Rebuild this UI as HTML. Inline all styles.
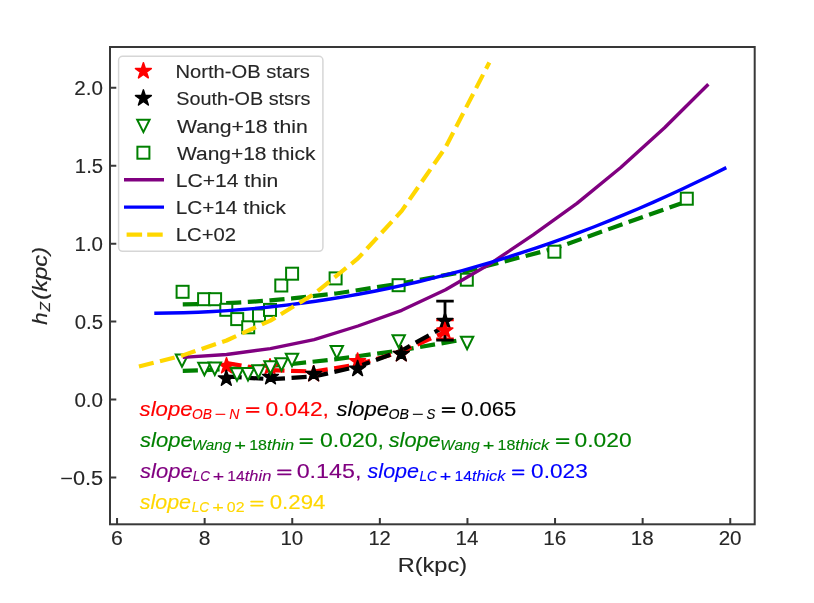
<!DOCTYPE html>
<html><head><meta charset="utf-8"><style>
html,body{margin:0;padding:0;background:#fff;width:814px;height:603px;overflow:hidden}
svg{display:block;font-family:"Liberation Sans",sans-serif;will-change:transform;filter:blur(0.35px)}
</style></head><body>
<svg width="814" height="603" viewBox="0 0 814 603">
<rect width="814" height="603" fill="#fff"/>
<defs><clipPath id="ax"><rect x="110" y="47" width="644.7" height="477.29999999999995"/></clipPath></defs>
<g clip-path="url(#ax)">
<path d="M182.75,304.39 L204.65,303.94 L215.60,303.58 L226.55,303.12 L237.50,302.57 L248.45,301.93 L259.40,301.20 L270.35,300.38 L281.30,299.46 L292.25,298.45 L336.05,293.50 L398.68,283.87 L467.45,271.00 L555.05,248.30 L686.45,201.50" fill="none" stroke="#008000" stroke-width="4.2" stroke-linejoin="round" stroke-linecap="butt" stroke-dasharray="15.15 6.55"/>
<rect x="176.60" y="285.80" width="12.00" height="12.00" fill="#fff" stroke="#008000" stroke-width="2.0"/>
<rect x="198.10" y="293.20" width="12.00" height="12.00" fill="#fff" stroke="#008000" stroke-width="2.0"/>
<rect x="209.10" y="293.20" width="12.00" height="12.00" fill="#fff" stroke="#008000" stroke-width="2.0"/>
<rect x="220.30" y="303.80" width="12.00" height="12.00" fill="#fff" stroke="#008000" stroke-width="2.0"/>
<rect x="231.20" y="313.10" width="12.00" height="12.00" fill="#fff" stroke="#008000" stroke-width="2.0"/>
<rect x="242.20" y="321.30" width="12.00" height="12.00" fill="#fff" stroke="#008000" stroke-width="2.0"/>
<rect x="253.00" y="309.50" width="12.00" height="12.00" fill="#fff" stroke="#008000" stroke-width="2.0"/>
<rect x="264.00" y="303.90" width="12.00" height="12.00" fill="#fff" stroke="#008000" stroke-width="2.0"/>
<rect x="275.30" y="279.50" width="12.00" height="12.00" fill="#fff" stroke="#008000" stroke-width="2.0"/>
<rect x="286.10" y="267.70" width="12.00" height="12.00" fill="#fff" stroke="#008000" stroke-width="2.0"/>
<rect x="329.60" y="272.40" width="12.00" height="12.00" fill="#fff" stroke="#008000" stroke-width="2.0"/>
<rect x="392.60" y="279.20" width="12.00" height="12.00" fill="#fff" stroke="#008000" stroke-width="2.0"/>
<rect x="460.80" y="273.70" width="12.00" height="12.00" fill="#fff" stroke="#008000" stroke-width="2.0"/>
<rect x="548.40" y="245.70" width="12.00" height="12.00" fill="#fff" stroke="#008000" stroke-width="2.0"/>
<rect x="680.80" y="192.70" width="12.00" height="12.00" fill="#fff" stroke="#008000" stroke-width="2.0"/>
<path d="M182.75,370.83 L204.65,370.06 L215.60,369.57 L226.55,368.99 L237.50,368.35 L248.45,367.62 L259.40,366.83 L270.35,365.95 L281.30,365.01 L292.25,363.98 L336.05,359.14 L398.68,350.62 L467.45,338.88" fill="none" stroke="#008000" stroke-width="4.2" stroke-linejoin="round" stroke-linecap="butt" stroke-dasharray="15.15 6.55"/>
<path d="M445.00,319.90 L445.00,338.80 M436.25,319.90 L453.75,319.90 M436.25,338.80 L453.75,338.80" stroke="#ff0000" stroke-width="2.8" fill="none"/>
<path d="M445.00,301.20 L445.00,340.20 M436.25,301.20 L453.75,301.20 M436.25,340.20 L453.75,340.20" stroke="#000000" stroke-width="2.8" fill="none"/>
<path d="M226.55,363.00 L270.35,370.20 L314.15,371.50 L357.95,364.50 L401.75,351.50 L445.55,331.70" fill="none" stroke="#ff0000" stroke-width="4.2" stroke-linejoin="round" stroke-linecap="butt" stroke-dasharray="15.15 6.55"/>
<path d="M226.55,376.50 L270.35,379.20 L314.15,376.50 L357.95,366.50 L401.75,350.50 L445.55,326.00" fill="none" stroke="#000000" stroke-width="4.2" stroke-linejoin="round" stroke-linecap="butt" stroke-dasharray="15.15 6.55"/>
<path d="M445.00,312.70 L446.86,318.44 L452.89,318.44 L448.02,321.98 L449.88,327.71 L445.00,324.17 L440.12,327.71 L441.98,321.98 L437.11,318.44 L443.14,318.44Z" fill="#000000" stroke="#000000" stroke-width="1.6" stroke-linejoin="round"/>
<path d="M226.50,357.70 L228.36,363.44 L234.39,363.44 L229.52,366.98 L231.38,372.71 L226.50,369.17 L221.62,372.71 L223.48,366.98 L218.61,363.44 L224.64,363.44Z" fill="#ff0000" stroke="#ff0000" stroke-width="1.6" stroke-linejoin="round"/>
<path d="M270.00,358.70 L271.86,364.44 L277.89,364.44 L273.02,367.98 L274.88,373.71 L270.00,370.17 L265.12,373.71 L266.98,367.98 L262.11,364.44 L268.14,364.44Z" fill="#ff0000" stroke="#ff0000" stroke-width="1.6" stroke-linejoin="round"/>
<path d="M313.60,365.70 L315.46,371.44 L321.49,371.44 L316.62,374.98 L318.48,380.71 L313.60,377.17 L308.72,380.71 L310.58,374.98 L305.71,371.44 L311.74,371.44Z" fill="#ff0000" stroke="#ff0000" stroke-width="1.6" stroke-linejoin="round"/>
<path d="M357.60,353.10 L359.46,358.84 L365.49,358.84 L360.62,362.38 L362.48,368.11 L357.60,364.57 L352.72,368.11 L354.58,362.38 L349.71,358.84 L355.74,358.84Z" fill="#ff0000" stroke="#ff0000" stroke-width="1.6" stroke-linejoin="round"/>
<path d="M401.30,345.70 L403.16,351.44 L409.19,351.44 L404.32,354.98 L406.18,360.71 L401.30,357.17 L396.42,360.71 L398.28,354.98 L393.41,351.44 L399.44,351.44Z" fill="#ff0000" stroke="#ff0000" stroke-width="1.6" stroke-linejoin="round"/>
<path d="M444.90,322.40 L446.76,328.14 L452.79,328.14 L447.92,331.68 L449.78,337.41 L444.90,333.87 L440.02,337.41 L441.88,331.68 L437.01,328.14 L443.04,328.14Z" fill="#ff0000" stroke="#ff0000" stroke-width="1.6" stroke-linejoin="round"/>
<path d="M226.30,370.20 L228.16,375.94 L234.19,375.94 L229.32,379.48 L231.18,385.21 L226.30,381.67 L221.42,385.21 L223.28,379.48 L218.41,375.94 L224.44,375.94Z" fill="#000000" stroke="#000000" stroke-width="1.6" stroke-linejoin="round"/>
<path d="M270.50,368.70 L272.36,374.44 L278.39,374.44 L273.52,377.98 L275.38,383.71 L270.50,380.17 L265.62,383.71 L267.48,377.98 L262.61,374.44 L268.64,374.44Z" fill="#000000" stroke="#000000" stroke-width="1.6" stroke-linejoin="round"/>
<path d="M313.70,365.70 L315.56,371.44 L321.59,371.44 L316.72,374.98 L318.58,380.71 L313.70,377.17 L308.82,380.71 L310.68,374.98 L305.81,371.44 L311.84,371.44Z" fill="#000000" stroke="#000000" stroke-width="1.6" stroke-linejoin="round"/>
<path d="M357.60,360.50 L359.46,366.24 L365.49,366.24 L360.62,369.78 L362.48,375.51 L357.60,371.97 L352.72,375.51 L354.58,369.78 L349.71,366.24 L355.74,366.24Z" fill="#000000" stroke="#000000" stroke-width="1.6" stroke-linejoin="round"/>
<path d="M401.30,345.70 L403.16,351.44 L409.19,351.44 L404.32,354.98 L406.18,360.71 L401.30,357.17 L396.42,360.71 L398.28,354.98 L393.41,351.44 L399.44,351.44Z" fill="#000000" stroke="#000000" stroke-width="1.6" stroke-linejoin="round"/>
<path d="M175.80,354.40 L188.20,354.40 L182.00,366.80Z" fill="#fff" stroke="#008000" stroke-width="2.0" stroke-linejoin="miter"/>
<path d="M198.20,362.80 L210.60,362.80 L204.40,375.20Z" fill="#fff" stroke="#008000" stroke-width="2.0" stroke-linejoin="miter"/>
<path d="M208.60,362.50 L221.00,362.50 L214.80,374.90Z" fill="#fff" stroke="#008000" stroke-width="2.0" stroke-linejoin="miter"/>
<path d="M230.80,368.30 L243.20,368.30 L237.00,380.70Z" fill="#fff" stroke="#008000" stroke-width="2.0" stroke-linejoin="miter"/>
<path d="M241.80,368.00 L254.20,368.00 L248.00,380.40Z" fill="#fff" stroke="#008000" stroke-width="2.0" stroke-linejoin="miter"/>
<path d="M252.30,365.30 L264.70,365.30 L258.50,377.70Z" fill="#fff" stroke="#008000" stroke-width="2.0" stroke-linejoin="miter"/>
<path d="M264.30,361.30 L276.70,361.30 L270.50,373.70Z" fill="#fff" stroke="#008000" stroke-width="2.0" stroke-linejoin="miter"/>
<path d="M275.30,358.30 L287.70,358.30 L281.50,370.70Z" fill="#fff" stroke="#008000" stroke-width="2.0" stroke-linejoin="miter"/>
<path d="M285.80,353.80 L298.20,353.80 L292.00,366.20Z" fill="#fff" stroke="#008000" stroke-width="2.0" stroke-linejoin="miter"/>
<path d="M330.60,346.00 L343.00,346.00 L336.80,358.40Z" fill="#fff" stroke="#008000" stroke-width="2.0" stroke-linejoin="miter"/>
<path d="M392.50,335.30 L404.90,335.30 L398.70,347.70Z" fill="#fff" stroke="#008000" stroke-width="2.0" stroke-linejoin="miter"/>
<path d="M460.90,336.80 L473.30,336.80 L467.10,349.20Z" fill="#fff" stroke="#008000" stroke-width="2.0" stroke-linejoin="miter"/>
<path d="M182.75,357.40 L226.55,354.50 L270.35,348.60 L314.15,339.70 L357.95,326.00 L401.75,310.30 L445.55,289.70 L489.35,264.30 L533.15,234.90 L576.95,203.40 L620.75,167.50 L664.55,127.70 L708.35,84.30" fill="none" stroke="#800080" stroke-width="3.4" stroke-linejoin="round" stroke-linecap="butt"/>
<path d="M154.28,313.20 L168.95,313.06 L183.61,312.73 L198.28,312.21 L212.95,311.51 L227.62,310.61 L242.28,309.52 L256.95,308.25 L271.62,306.79 L286.29,305.13 L300.95,303.29 L315.62,301.26 L330.29,299.04 L344.96,296.63 L359.62,294.03 L374.29,291.25 L388.96,288.27 L403.63,285.10 L418.29,281.75 L432.96,278.21 L447.63,274.47 L462.30,270.55 L476.96,266.44 L491.63,262.14 L506.30,257.65 L520.96,252.97 L535.63,248.11 L550.30,243.05 L564.97,237.80 L579.63,232.37 L594.30,226.75 L608.97,220.93 L623.64,214.93 L638.30,208.74 L652.97,202.36 L667.64,195.79 L682.31,189.03 L696.97,182.08 L711.64,174.95 L726.31,167.62" fill="none" stroke="#0000ff" stroke-width="3.4" stroke-linejoin="round" stroke-linecap="butt"/>
<path d="M138.95,366.51 L182.75,355.37 L226.55,340.49 L270.35,320.59 L314.15,293.98 L357.95,258.43 L401.75,210.90 L445.55,147.37 L489.35,62.45" fill="none" stroke="#ffd700" stroke-width="4.2" stroke-linejoin="round" stroke-linecap="butt" stroke-dasharray="15.15 6.55"/>
</g>
<rect x="110" y="47" width="644.70" height="477.30" fill="none" stroke="#383838" stroke-width="2.0"/>
<path d="M117.05,524.30 L117.05,518.00 M204.65,524.30 L204.65,518.00 M292.25,524.30 L292.25,518.00 M379.85,524.30 L379.85,518.00 M467.45,524.30 L467.45,518.00 M555.05,524.30 L555.05,518.00 M642.65,524.30 L642.65,518.00 M730.25,524.30 L730.25,518.00 M110.00,477.56 L116.30,477.56 M110.00,399.59 L116.30,399.59 M110.00,321.62 L116.30,321.62 M110.00,243.64 L116.30,243.64 M110.00,165.66 L116.30,165.66 M110.00,87.69 L116.30,87.69" stroke="#383838" stroke-width="2.0" fill="none"/>
<text x="111.04" y="545.20" font-size="19.6" font-style="normal" fill="#262626" stroke="#262626" stroke-width="0.12" textLength="11.83" lengthAdjust="spacingAndGlyphs">6</text>
<text x="198.76" y="545.20" font-size="19.6" font-style="normal" fill="#262626" stroke="#262626" stroke-width="0.12" textLength="11.70" lengthAdjust="spacingAndGlyphs">8</text>
<text x="280.46" y="545.20" font-size="19.6" font-style="normal" fill="#262626" stroke="#262626" stroke-width="0.12" textLength="22.81" lengthAdjust="spacingAndGlyphs">10</text>
<text x="368.40" y="545.20" font-size="19.6" font-style="normal" fill="#262626" stroke="#262626" stroke-width="0.12" textLength="22.45" lengthAdjust="spacingAndGlyphs">12</text>
<text x="455.56" y="545.20" font-size="19.6" font-style="normal" fill="#262626" stroke="#262626" stroke-width="0.12" textLength="22.90" lengthAdjust="spacingAndGlyphs">14</text>
<text x="543.20" y="545.20" font-size="19.6" font-style="normal" fill="#262626" stroke="#262626" stroke-width="0.12" textLength="23.03" lengthAdjust="spacingAndGlyphs">16</text>
<text x="630.85" y="545.20" font-size="19.6" font-style="normal" fill="#262626" stroke="#262626" stroke-width="0.12" textLength="22.93" lengthAdjust="spacingAndGlyphs">18</text>
<text x="718.65" y="545.20" font-size="19.6" font-style="normal" fill="#262626" stroke="#262626" stroke-width="0.12" textLength="22.94" lengthAdjust="spacingAndGlyphs">20</text>
<text x="60.18" y="484.56" font-size="19.6" font-style="normal" fill="#262626" stroke="#262626" stroke-width="0.12" textLength="42.97" lengthAdjust="spacingAndGlyphs">−0.5</text>
<text x="74.40" y="406.59" font-size="19.6" font-style="normal" fill="#262626" stroke="#262626" stroke-width="0.12" textLength="28.63" lengthAdjust="spacingAndGlyphs">0.0</text>
<text x="74.76" y="328.62" font-size="19.6" font-style="normal" fill="#262626" stroke="#262626" stroke-width="0.12" textLength="28.35" lengthAdjust="spacingAndGlyphs">0.5</text>
<text x="74.49" y="250.64" font-size="19.6" font-style="normal" fill="#262626" stroke="#262626" stroke-width="0.12" textLength="28.53" lengthAdjust="spacingAndGlyphs">1.0</text>
<text x="74.87" y="172.66" font-size="19.6" font-style="normal" fill="#262626" stroke="#262626" stroke-width="0.12" textLength="28.25" lengthAdjust="spacingAndGlyphs">1.5</text>
<text x="74.37" y="94.69" font-size="19.6" font-style="normal" fill="#262626" stroke="#262626" stroke-width="0.12" textLength="28.66" lengthAdjust="spacingAndGlyphs">2.0</text>
<text x="397.72" y="571.90" font-size="20.6" font-style="normal" fill="#262626" stroke="#262626" stroke-width="0.12" textLength="69.30" lengthAdjust="spacingAndGlyphs">R(kpc)</text>
<g transform="translate(47.4,325.8) rotate(-90)">
<text x="0.97" y="-0.40" font-size="20.6" font-style="italic" fill="#262626" stroke="#262626" stroke-width="0.12" textLength="12.36" lengthAdjust="spacingAndGlyphs">h</text>
<text x="14.21" y="3.00" font-size="15.0" font-style="italic" fill="#262626" stroke="#262626" stroke-width="0.12" textLength="9.53" lengthAdjust="spacingAndGlyphs">Z</text>
<text x="26.13" y="-0.40" font-size="20.6" font-style="italic" fill="#262626" stroke="#262626" stroke-width="0.12" textLength="52.83" lengthAdjust="spacingAndGlyphs">(kpc)</text>
</g>
<rect x="118.6" y="56.3" width="204.3" height="195.0" rx="4" ry="4" fill="#ffffff" fill-opacity="0.8" stroke="#d6d6d6" stroke-width="1.5"/>
<text x="175.49" y="78.10" font-size="19.2" font-style="normal" fill="#262626" stroke="#262626" stroke-width="0.12" textLength="134.48" lengthAdjust="spacingAndGlyphs">North-OB stars</text>
<text x="176.21" y="105.30" font-size="19.2" font-style="normal" fill="#262626" stroke="#262626" stroke-width="0.12" textLength="134.28" lengthAdjust="spacingAndGlyphs">South-OB stsrs</text>
<text x="176.99" y="132.50" font-size="19.2" font-style="normal" fill="#262626" stroke="#262626" stroke-width="0.12" textLength="130.72" lengthAdjust="spacingAndGlyphs">Wang+18 thin</text>
<text x="177.00" y="159.70" font-size="19.2" font-style="normal" fill="#262626" stroke="#262626" stroke-width="0.12" textLength="138.42" lengthAdjust="spacingAndGlyphs">Wang+18 thick</text>
<text x="175.71" y="186.90" font-size="19.2" font-style="normal" fill="#262626" stroke="#262626" stroke-width="0.12" textLength="102.66" lengthAdjust="spacingAndGlyphs">LC+14 thin</text>
<text x="175.74" y="214.10" font-size="19.2" font-style="normal" fill="#262626" stroke="#262626" stroke-width="0.12" textLength="110.03" lengthAdjust="spacingAndGlyphs">LC+14 thick</text>
<text x="175.78" y="241.30" font-size="19.2" font-style="normal" fill="#262626" stroke="#262626" stroke-width="0.12" textLength="60.23" lengthAdjust="spacingAndGlyphs">LC+02</text>
<path d="M143.40,62.80 L145.26,68.54 L151.29,68.54 L146.42,72.08 L148.28,77.81 L143.40,74.27 L138.52,77.81 L140.38,72.08 L135.51,68.54 L141.54,68.54Z" fill="#ff0000" stroke="#ff0000" stroke-width="1.6" stroke-linejoin="round"/>
<path d="M143.40,89.90 L145.26,95.64 L151.29,95.64 L146.42,99.18 L148.28,104.91 L143.40,101.37 L138.52,104.91 L140.38,99.18 L135.51,95.64 L141.54,95.64Z" fill="#000000" stroke="#000000" stroke-width="1.6" stroke-linejoin="round"/>
<path d="M137.20,119.70 L149.60,119.70 L143.40,132.10Z" fill="#fff" stroke="#008000" stroke-width="2.0" stroke-linejoin="miter"/>
<rect x="137.40" y="146.70" width="12.00" height="12.00" fill="#fff" stroke="#008000" stroke-width="2.0"/>
<path d="M124.00,179.80 L164.00,179.80" fill="none" stroke="#800080" stroke-width="3.4" stroke-linejoin="round" stroke-linecap="butt"/>
<path d="M124.00,207.10 L164.00,207.10" fill="none" stroke="#0000ff" stroke-width="3.4" stroke-linejoin="round" stroke-linecap="butt"/>
<path d="M126.6,234.60 L142.1,234.60 M147.2,234.60 L162.7,234.60" stroke="#ffd700" stroke-width="4.2" fill="none"/>
<text x="139.59" y="415.60" font-size="20.2" font-style="italic" fill="#ff0000" stroke="#ff0000" stroke-width="0.12" textLength="53.00" lengthAdjust="spacingAndGlyphs">slope</text>
<text x="191.96" y="418.60" font-size="14.8" font-style="italic" fill="#ff0000" stroke="#ff0000" stroke-width="0.12" textLength="19.92" lengthAdjust="spacingAndGlyphs">OB</text>
<text x="214.86" y="418.60" font-size="14.8" font-style="normal" fill="#ff0000" stroke="#ff0000" stroke-width="0.12" textLength="11.33" lengthAdjust="spacingAndGlyphs">−</text>
<text x="229.16" y="418.60" font-size="14.8" font-style="italic" fill="#ff0000" stroke="#ff0000" stroke-width="0.12" textLength="10.12" lengthAdjust="spacingAndGlyphs">N</text>
<path d="M246.80,408.00 L258.60,408.00 M246.80,411.90 L258.60,411.90" stroke="#ff0000" stroke-width="1.75" stroke-linecap="round" fill="none"/>
<text x="265.59" y="415.60" font-size="20.2" font-style="normal" fill="#ff0000" stroke="#ff0000" stroke-width="0.12" textLength="63.36" lengthAdjust="spacingAndGlyphs">0.042,</text>
<text x="336.49" y="415.60" font-size="20.2" font-style="italic" fill="#000000" stroke="#000000" stroke-width="0.12" textLength="52.49" lengthAdjust="spacingAndGlyphs">slope</text>
<text x="388.45" y="418.60" font-size="14.8" font-style="italic" fill="#000000" stroke="#000000" stroke-width="0.12" textLength="20.44" lengthAdjust="spacingAndGlyphs">OB</text>
<text x="411.93" y="418.60" font-size="14.8" font-style="normal" fill="#000000" stroke="#000000" stroke-width="0.12" textLength="11.62" lengthAdjust="spacingAndGlyphs">−</text>
<text x="426.61" y="418.60" font-size="14.8" font-style="italic" fill="#000000" stroke="#000000" stroke-width="0.12" textLength="8.81" lengthAdjust="spacingAndGlyphs">S</text>
<path d="M442.60,408.00 L454.40,408.00 M442.60,411.90 L454.40,411.90" stroke="#000000" stroke-width="1.75" stroke-linecap="round" fill="none"/>
<text x="461.12" y="415.60" font-size="20.2" font-style="normal" fill="#000000" stroke="#000000" stroke-width="0.12" textLength="55.32" lengthAdjust="spacingAndGlyphs">0.065</text>
<text x="140.09" y="446.80" font-size="20.2" font-style="italic" fill="#008000" stroke="#008000" stroke-width="0.12" textLength="52.70" lengthAdjust="spacingAndGlyphs">slope</text>
<text x="191.67" y="449.80" font-size="14.8" font-style="italic" fill="#008000" stroke="#008000" stroke-width="0.12" textLength="39.55" lengthAdjust="spacingAndGlyphs">Wang</text>
<text x="234.30" y="449.80" font-size="14.8" font-style="normal" fill="#008000" stroke="#008000" stroke-width="0.12" textLength="11.77" lengthAdjust="spacingAndGlyphs">+</text>
<text x="249.16" y="449.80" font-size="14.8" font-style="normal" fill="#008000" stroke="#008000" stroke-width="0.12" textLength="17.87" lengthAdjust="spacingAndGlyphs">18</text>
<text x="267.03" y="449.80" font-size="14.8" font-style="italic" fill="#008000" stroke="#008000" stroke-width="0.12" textLength="27.22" lengthAdjust="spacingAndGlyphs">thin</text>
<path d="M300.40,439.20 L312.00,439.20 M300.40,443.10 L312.00,443.10" stroke="#008000" stroke-width="1.75" stroke-linecap="round" fill="none"/>
<text x="319.98" y="446.80" font-size="20.2" font-style="normal" fill="#008000" stroke="#008000" stroke-width="0.12" textLength="63.98" lengthAdjust="spacingAndGlyphs">0.020,</text>
<text x="388.69" y="446.80" font-size="20.2" font-style="italic" fill="#008000" stroke="#008000" stroke-width="0.12" textLength="51.99" lengthAdjust="spacingAndGlyphs">slope</text>
<text x="440.37" y="449.80" font-size="14.8" font-style="italic" fill="#008000" stroke="#008000" stroke-width="0.12" textLength="39.34" lengthAdjust="spacingAndGlyphs">Wang</text>
<text x="482.79" y="449.80" font-size="14.8" font-style="normal" fill="#008000" stroke="#008000" stroke-width="0.12" textLength="11.71" lengthAdjust="spacingAndGlyphs">+</text>
<text x="497.57" y="449.80" font-size="14.8" font-style="normal" fill="#008000" stroke="#008000" stroke-width="0.12" textLength="17.78" lengthAdjust="spacingAndGlyphs">18</text>
<text x="515.35" y="449.80" font-size="14.8" font-style="italic" fill="#008000" stroke="#008000" stroke-width="0.12" textLength="33.99" lengthAdjust="spacingAndGlyphs">thick</text>
<path d="M556.80,439.20 L568.50,439.20 M556.80,443.10 L568.50,443.10" stroke="#008000" stroke-width="1.75" stroke-linecap="round" fill="none"/>
<text x="574.59" y="446.80" font-size="20.2" font-style="normal" fill="#008000" stroke="#008000" stroke-width="0.12" textLength="57.07" lengthAdjust="spacingAndGlyphs">0.020</text>
<text x="140.09" y="478.00" font-size="20.2" font-style="italic" fill="#800080" stroke="#800080" stroke-width="0.12" textLength="52.70" lengthAdjust="spacingAndGlyphs">slope</text>
<text x="192.66" y="481.00" font-size="14.8" font-style="italic" fill="#800080" stroke="#800080" stroke-width="0.12" textLength="17.20" lengthAdjust="spacingAndGlyphs">LC</text>
<text x="212.87" y="481.00" font-size="14.8" font-style="normal" fill="#800080" stroke="#800080" stroke-width="0.12" textLength="11.48" lengthAdjust="spacingAndGlyphs">+</text>
<text x="227.36" y="481.00" font-size="14.8" font-style="normal" fill="#800080" stroke="#800080" stroke-width="0.12" textLength="17.43" lengthAdjust="spacingAndGlyphs">14</text>
<text x="244.79" y="481.00" font-size="14.8" font-style="italic" fill="#800080" stroke="#800080" stroke-width="0.12" textLength="26.54" lengthAdjust="spacingAndGlyphs">thin</text>
<path d="M278.00,470.40 L290.60,470.40 M278.00,474.30 L290.60,474.30" stroke="#800080" stroke-width="1.75" stroke-linecap="round" fill="none"/>
<text x="296.67" y="478.00" font-size="20.2" font-style="normal" fill="#800080" stroke="#800080" stroke-width="0.12" textLength="64.72" lengthAdjust="spacingAndGlyphs">0.145,</text>
<text x="367.59" y="478.00" font-size="20.2" font-style="italic" fill="#0000ff" stroke="#0000ff" stroke-width="0.12" textLength="51.48" lengthAdjust="spacingAndGlyphs">slope</text>
<text x="419.56" y="481.00" font-size="14.8" font-style="italic" fill="#0000ff" stroke="#0000ff" stroke-width="0.12" textLength="17.27" lengthAdjust="spacingAndGlyphs">LC</text>
<text x="439.85" y="481.00" font-size="14.8" font-style="normal" fill="#0000ff" stroke="#0000ff" stroke-width="0.12" textLength="11.52" lengthAdjust="spacingAndGlyphs">+</text>
<text x="454.40" y="481.00" font-size="14.8" font-style="normal" fill="#0000ff" stroke="#0000ff" stroke-width="0.12" textLength="17.50" lengthAdjust="spacingAndGlyphs">14</text>
<text x="471.90" y="481.00" font-size="14.8" font-style="italic" fill="#0000ff" stroke="#0000ff" stroke-width="0.12" textLength="33.46" lengthAdjust="spacingAndGlyphs">thick</text>
<path d="M512.90,470.40 L523.50,470.40 M512.90,474.30 L523.50,474.30" stroke="#0000ff" stroke-width="1.75" stroke-linecap="round" fill="none"/>
<text x="531.09" y="478.00" font-size="20.2" font-style="normal" fill="#0000ff" stroke="#0000ff" stroke-width="0.12" textLength="56.67" lengthAdjust="spacingAndGlyphs">0.023</text>
<text x="139.79" y="509.20" font-size="20.2" font-style="italic" fill="#ffd700" stroke="#ffd700" stroke-width="0.12" textLength="51.27" lengthAdjust="spacingAndGlyphs">slope</text>
<text x="191.65" y="512.20" font-size="14.8" font-style="italic" fill="#ffd700" stroke="#ffd700" stroke-width="0.12" textLength="17.44" lengthAdjust="spacingAndGlyphs">LC</text>
<text x="212.15" y="512.20" font-size="14.8" font-style="normal" fill="#ffd700" stroke="#ffd700" stroke-width="0.12" textLength="11.64" lengthAdjust="spacingAndGlyphs">+</text>
<text x="226.85" y="512.20" font-size="14.8" font-style="normal" fill="#ffd700" stroke="#ffd700" stroke-width="0.12" textLength="17.68" lengthAdjust="spacingAndGlyphs">02</text>
<path d="M251.10,501.60 L262.70,501.60 M251.10,505.50 L262.70,505.50" stroke="#ffd700" stroke-width="1.75" stroke-linecap="round" fill="none"/>
<text x="269.71" y="509.20" font-size="20.2" font-style="normal" fill="#ffd700" stroke="#ffd700" stroke-width="0.12" textLength="55.71" lengthAdjust="spacingAndGlyphs">0.294</text>
</svg>
</body></html>
